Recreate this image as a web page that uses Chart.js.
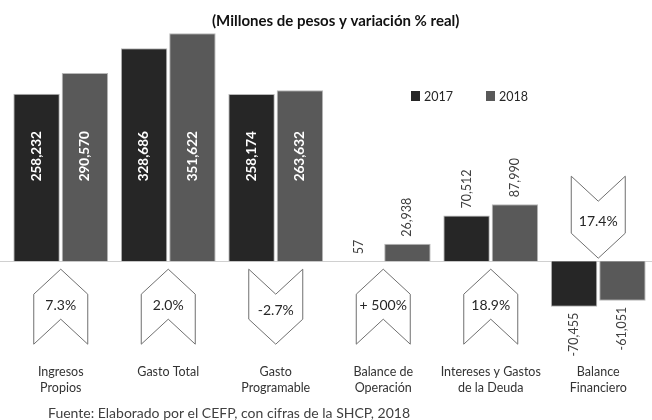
<!DOCTYPE html>
<html>
<head>
<meta charset="utf-8">
<script src="https://cdn.jsdelivr.net/npm/chart.js@4.4.1/dist/chart.umd.min.js"></script>
<style>
  body { margin: 0; background: #fff; }
  canvas { display: block; }
</style>
</head>
<body>
<canvas id="chart" width="652" height="420"></canvas>
<script>
const categories = [
  ["Ingresos", "Propios"],
  ["Gasto Total"],
  ["Gasto", "Programable"],
  ["Balance de", "Operación"],
  ["Intereses y Gastos", "de la Deuda"],
  ["Balance", "Financiero"]
];
const years = ["2017", "2018"];
const values2017 = [258232, 328686, 258174, 57, 70512, -70455];
const values2018 = [290570, 351622, 263632, 26938, 87990, -61051];
const variation = ["7.3%", "2.0%", "-2.7%", "+ 500%", "18.9%", "17.4%"];
const arrowDir = ["up", "up", "down", "up", "up", "down"];

const titleText = "(Millones de pesos y variación % real)";
const sourceText = "Fuente: Elaborado por el CEFP, con cifras de la SHCP, 2018";
const colors = ["#262626", "#595959"];

function fmt(v) {
  return v.toLocaleString("en-US");
}

// draw text squeezed to a target width (mimics the narrow original font)
function fitText(ctx, text, x, y, width) {
  const w = ctx.measureText(text).width;
  const sx = Math.min(1, width / w);
  ctx.save();
  ctx.translate(x, y);
  ctx.scale(sx, 1);
  ctx.fillText(text, 0, 0);
  ctx.restore();
}

function chevron(ctx, cx, top, w, h, s, dir) {
  const l = cx - w / 2, r = cx + w / 2;
  ctx.beginPath();
  if (dir === "up") {
    ctx.moveTo(cx, top);
    ctx.lineTo(r, top + s);
    ctx.lineTo(r, top + h);
    ctx.lineTo(cx, top + h - s);
    ctx.lineTo(l, top + h);
    ctx.lineTo(l, top + s);
  } else {
    ctx.moveTo(l, top);
    ctx.lineTo(cx, top + s);
    ctx.lineTo(r, top);
    ctx.lineTo(r, top + h - s);
    ctx.lineTo(cx, top + h);
    ctx.lineTo(l, top + h - s);
  }
  ctx.closePath();
  ctx.fillStyle = "#fff";
  ctx.fill();
  ctx.strokeStyle = "#6f6f6f";
  ctx.lineWidth = 1;
  ctx.stroke();
}

const decorations = {
  id: "decorations",
  beforeDatasetsDraw(chart) {
    const { ctx, chartArea, scales } = chart;
    const y0 = Math.round(scales.y.getPixelForValue(0)) + 0.5;
    ctx.save();
    ctx.strokeStyle = "#d0d0d0";
    ctx.lineWidth = 1;
    ctx.beginPath();
    ctx.moveTo(0, y0);
    ctx.lineTo(chartArea.right, y0);
    ctx.stroke();
    ctx.restore();
  },
  afterDatasetsDraw(chart) {
    const { ctx, scales } = chart;
    const x = scales.x, y = scales.y;
    const y0 = y.getPixelForValue(0);
    ctx.save();

    // title
    ctx.fillStyle = "#111";
    ctx.font = "bold 15px Lato";
    ctx.textBaseline = "middle";
    ctx.textAlign = "left";
    fitText(ctx, titleText, 212, 21, 267);

    // legend
    ctx.font = "12.5px Lato";
    const legendX = [411, 486];
    years.forEach((yr, i) => {
      ctx.fillStyle = colors[i];
      ctx.fillRect(legendX[i], 91, 9, 10);
      ctx.fillStyle = "#262626";
      ctx.fillText(yr, legendX[i] + 13, 96.5);
    });

    // value labels
    chart.data.datasets.forEach((ds, di) => {
      const meta = chart.getDatasetMeta(di);
      meta.data.forEach((bar, i) => {
        const v = ds.data[i];
        ctx.save();
        ctx.textBaseline = "middle";
        if (v > 200000) {
          ctx.translate(bar.x, y.getPixelForValue(162000));
          ctx.rotate(-Math.PI / 2);
          ctx.fillStyle = "#fff";
          ctx.font = "bold 13.5px Lato";
          ctx.textAlign = "center";
          ctx.fillText(fmt(v), 0, 0);
        } else if (v >= 0) {
          ctx.translate(bar.x, bar.y - 7);
          ctx.rotate(-Math.PI / 2);
          ctx.fillStyle = "#404040";
          ctx.font = "12.5px Lato";
          ctx.textAlign = "left";
          ctx.fillText(fmt(v), 0, 0);
        } else {
          ctx.translate(bar.x, bar.y + 6);
          ctx.rotate(-Math.PI / 2);
          ctx.fillStyle = "#404040";
          ctx.font = "12.5px Lato";
          ctx.textAlign = "right";
          ctx.fillText(fmt(v), 0, 0);
        }
        ctx.restore();
      });
    });

    // variation arrows
    categories.forEach((c, i) => {
      const cx = x.getPixelForValue(i);
      const below = values2017[i] >= 0;
      const w = 54, h = below ? 75 : 82, s = 25;
      const top = below ? y0 + 8 : y0 - 85;
      chevron(ctx, cx, top, w, h, s, arrowDir[i]);
      ctx.fillStyle = "#262626";
      ctx.font = "14px Lato";
      ctx.textAlign = "center";
      ctx.textBaseline = "middle";
      const ty = arrowDir[i] === "up" ? top + 36 : top + h * 0.55;
      ctx.fillText(variation[i], cx, ty);
    });

    // category labels
    ctx.fillStyle = "#333";
    ctx.font = "12.5px Lato";
    ctx.textAlign = "center";
    ctx.textBaseline = "middle";
    categories.forEach((c, i) => {
      const cx = x.getPixelForValue(i);
      c.forEach((line, k) => ctx.fillText(line, cx, 372 + k * 16));
    });

    // source
    ctx.fillStyle = "#404040";
    ctx.font = "14px Lato";
    ctx.textAlign = "left";
    ctx.textBaseline = "top";
    fitText(ctx, sourceText, 48, 406, 366);

    ctx.restore();
  }
};

new Chart(document.getElementById("chart"), {
  type: "bar",
  data: {
    labels: categories,
    datasets: [
      { label: years[0], data: values2017, backgroundColor: colors[0], borderColor: "#b8b8b8", borderWidth: 1 },
      { label: years[1], data: values2018, backgroundColor: colors[1], borderColor: "#b8b8b8", borderWidth: 1 }
    ]
  },
  options: {
    responsive: false,
    animation: false,
    layout: { padding: { top: 2, bottom: 94, left: 7, right: 0 } },
    datasets: { bar: { barPercentage: 0.96, categoryPercentage: 0.9 } },
    plugins: { legend: { display: false }, tooltip: { enabled: false } },
    scales: {
      x: { display: false },
      y: { display: false, min: -100000, max: 400000 }
    }
  },
  plugins: [decorations]
});
</script>
</body>
</html>
